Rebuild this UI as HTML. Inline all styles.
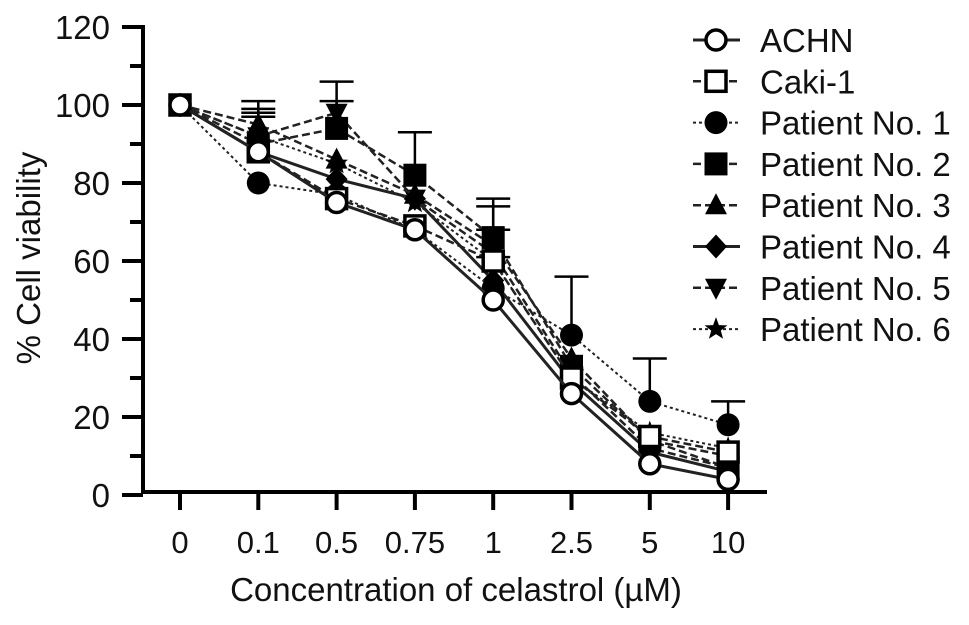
<!DOCTYPE html>
<html><head><meta charset="utf-8"><style>
body{margin:0;background:#fff}
svg text{font-family:"Liberation Sans",sans-serif;fill:#111}
</style></head><body>
<svg id="chart" width="969" height="620"></svg>
<script>
const categories=["0","0.1","0.5","0.75","1","2.5","5","10"];
const yTicks=[0,20,40,60,80,100,120];
const seriesNames=["ACHN","Caki-1","Patient No. 1","Patient No. 2","Patient No. 3","Patient No. 4","Patient No. 5","Patient No. 6"];
const achn=[100,88,75,68,50,26,8,4];
const caki1=[100,88,76,69,60,30,15,11];
const p1=[100,80,77,68,53,41,24,18];
const p2=[100,90,94,82,66,33,14,7];
const p3=[100,95,86,77,64,35,14,10];
const p4=[100,88,81,76,55,29,11,6];
const p5=[100,92,98,76,62,31,12,7];
const p6=[100,92,85,75,60,30,16,12];
const p1Err=[0,0,0,0,8,15,11,6];
const p2Err=[0,8,7,11,10,0,0,0];
const p3Err=[0,4,0,0,0,0,0,0];
const p5Err=[0,9,8,0,12,0,0,0];
const p6Err=[0,5,0,0,8,0,0,0];
const NS="http://www.w3.org/2000/svg";
const svg=document.getElementById('chart');
const X=i=>180+i*78.3;
const Y=v=>495-v*3.9;
function mk(t,a,p){const e=document.createElementNS(NS,t);for(const k in a)e.setAttribute(k,a[k]);(p||svg).appendChild(e);return e;}
let ax=mk('g',{});


mk('line',{x1:143,y1:Y(120)-2,x2:143,y2:494,stroke:'#000','stroke-width':4},ax);
mk('line',{x1:141,y1:492,x2:767,y2:492,stroke:'#000','stroke-width':4},ax);
yTicks.forEach(v=>{
 mk('line',{x1:122,y1:Y(v),x2:143,y2:Y(v),stroke:'#000','stroke-width':4},ax);
 if(v<120)mk('line',{x1:130,y1:Y(v+10),x2:143,y2:Y(v+10),stroke:'#000','stroke-width':4},ax);
 let t=mk('text',{x:110,y:Y(v)+12,'text-anchor':'end','font-size':33},ax);t.textContent=v;
 
 
});
categories.forEach((c,i)=>{
 mk('line',{x1:X(i),y1:492,x2:X(i),y2:510,stroke:'#000','stroke-width':4},ax);
 let t=mk('text',{x:X(i),y:553,'text-anchor':'middle','font-size':31},ax);t.textContent=c;
 
 
});
let yt=mk('text',{x:0,y:0,transform:'translate(40,258) rotate(-90)','text-anchor':'middle','font-size':33});yt.textContent='% Cell viability';


let xt=mk('text',{x:456,y:601,'text-anchor':'middle','font-size':33});xt.textContent='Concentration of celastrol (\u00b5M)';


function marker(g,type,x,y){
 const s=10;
 if(type==='ocircle')mk('circle',{cx:x,cy:y,r:s,fill:'#fff',stroke:'#000','stroke-width':3.5},g);
 else if(type==='osquare')mk('rect',{x:x-s,y:y-s,width:2*s,height:2*s,fill:'#fff',stroke:'#000','stroke-width':3.5},g);
 else if(type==='circle')mk('circle',{cx:x,cy:y,r:s+1.5,fill:'#000'},g);
 else if(type==='square')mk('rect',{x:x-s-1.5,y:y-s-1.5,width:2*s+3,height:2*s+3,fill:'#000'},g);
 else if(type==='tri')mk('polygon',{points:`${x},${y-12} ${x+11},${y+9} ${x-11},${y+9}`,fill:'#000'},g);
 else if(type==='diamond')mk('polygon',{points:`${x},${y-12} ${x+11},${y} ${x},${y+12} ${x-11},${y}`,fill:'#000'},g);
 else if(type==='dtri')mk('polygon',{points:`${x},${y+12} ${x+11},${y-9} ${x-11},${y-9}`,fill:'#000'},g);
 else if(type==='star'){let p=[];for(let k=0;k<10;k++){const r=k%2?5:12,a=-Math.PI/2+k*Math.PI/5;p.push((x+r*Math.cos(a)).toFixed(1)+','+(y+r*Math.sin(a)).toFixed(1));}mk('polygon',{points:p.join(' '),fill:'#000'},g);}
}
const all=[achn,caki1,p1,p2,p3,p4,p5,p6];
const errs=[null,null,p1Err,p2Err,p3Err,null,p5Err,p6Err];
const types=['ocircle','osquare','circle','square','tri','diamond','dtri','star'];
const dashes=['none','8,4','3,3','8,4','8,4','none','8,4','3,3'];
const widths=[3,2.5,2,2.5,2.5,3,2.5,2];
for(let s=all.length-1;s>=0;s--){
 let g=mk('g',{});
 
 
 const d=all[s];
 if(errs[s])errs[s].forEach((e,i)=>{if(e>0){mk('line',{x1:X(i),y1:Y(d[i]),x2:X(i),y2:Y(d[i]+e),stroke:'#000','stroke-width':2.5},g);mk('line',{x1:X(i)-17,y1:Y(d[i]+e),x2:X(i)+17,y2:Y(d[i]+e),stroke:'#000','stroke-width':2.5},g);}});
 mk('polyline',{points:d.map((v,i)=>X(i)+','+Y(v)).join(' '),fill:'none',stroke:'#222','stroke-width':widths[s],'stroke-dasharray':dashes[s]},g);
 d.forEach((v,i)=>marker(g,types[s],X(i),Y(v)));
}
let lg=mk('g',{});


seriesNames.forEach((n,i)=>{
 const y=40+i*41.3;
 let e=mk('g',{},lg);
 
 
 mk('line',{x1:693,y1:y,x2:740,y2:y,stroke:'#222','stroke-width':widths[i],'stroke-dasharray':dashes[i]},e);
 marker(e,types[i],716,y);
 let t=mk('text',{x:760,y:y+12,'font-size':33},e);t.textContent=n;
});
</script>
</body></html>
